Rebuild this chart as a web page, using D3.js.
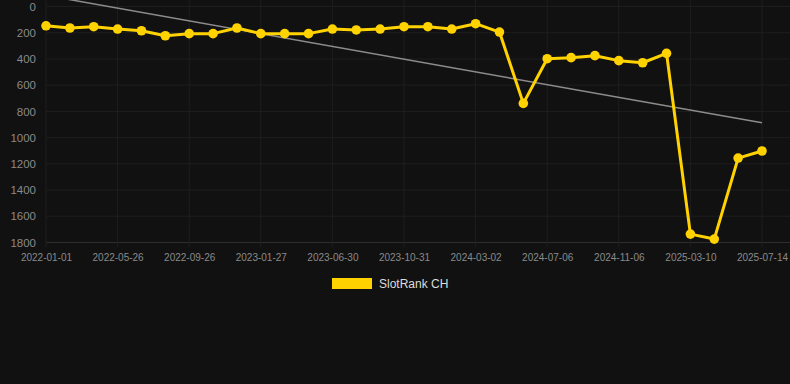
<!DOCTYPE html>
<html>
<head>
<meta charset="utf-8">
<script src="https://cdn.jsdelivr.net/npm/d3@7"></script>
<style>
  html, body { margin: 0; padding: 0; background: #111111; }
  svg { display: block; font-family: "Liberation Sans", Arial, sans-serif; }
</style>
</head>
<body>
<svg width="790" height="384"></svg>
<script>
// data (rank, lower is better)
var dates = [
  "2022-01-01", "2022-02-18", "2022-04-07", "2022-05-26", "2022-07-06", "2022-08-16",
  "2022-09-26", "2022-11-05", "2022-12-16", "2023-01-27", "2023-03-18", "2023-05-09",
  "2023-06-30", "2023-08-10", "2023-09-20", "2023-10-31", "2023-12-11", "2024-01-21",
  "2024-03-02", "2024-04-13", "2024-05-25", "2024-07-06", "2024-08-16", "2024-09-26",
  "2024-11-06", "2024-12-17", "2025-01-27", "2025-03-10", "2025-04-21", "2025-06-02",
  "2025-07-14"
];
var ranks = [
  147, 164, 154, 172, 185, 223, 207, 207, 164, 207, 207, 207,
  172, 179, 172, 154, 154, 172, 131, 195, 739, 398, 390, 375,
  413, 429, 357, 1736, 1774, 1156, 1102
];
var yTicks = [0, 200, 400, 600, 800, 1000, 1200, 1400, 1600, 1800];
var seriesName = "SlotRank CH";

var svg = d3.select("svg");
var plotL = 46, plotR = 762, gridR = 790, plotT = 6.5, plotB = 242.5;

var x = d3.scalePoint().domain(dates).range([plotL, plotR]);
var y = d3.scaleLinear().domain([0, 1800]).range([plotT, plotB]);

// grid
var grid = svg.append("g");
grid.selectAll(".hg")
  .data(yTicks)
  .enter().append("line")
  .attr("x1", plotL).attr("x2", gridR)
  .attr("y1", function (d) { return y(d); })
  .attr("y2", function (d) { return y(d); })
  .attr("stroke", function (d) { return d === 1800 ? "#2e2e2e" : "#1e1e1e"; })
  .attr("stroke-width", 1);

var xTickVals = dates.filter(function (d, i) { return i % 3 === 0; });
grid.selectAll(".vg")
  .data(xTickVals)
  .enter().append("line")
  .attr("x1", function (d) { return x(d); })
  .attr("x2", function (d) { return x(d); })
  .attr("y1", 0).attr("y2", plotB + 5)
  .attr("stroke", "#1e1e1e")
  .attr("stroke-width", 1);

// axes
var yAxis = svg.append("g")
  .attr("transform", "translate(" + (plotL - 10) + ",0)")
  .call(d3.axisLeft(y).tickValues(yTicks).tickFormat(d3.format("d")).tickSize(0).tickPadding(0));
yAxis.select(".domain").remove();
yAxis.selectAll("text")
  .attr("fill", "#8a8a8a")
  .style("font-size", "11.5px");

var xAxis = svg.append("g")
  .attr("transform", "translate(0," + plotB + ")")
  .call(d3.axisBottom(x).tickValues(xTickVals).tickSize(0).tickPadding(11));
xAxis.select(".domain").remove();
xAxis.selectAll("text")
  .attr("fill", "#8a8a8a")
  .style("font-size", "10px");

// trend line (least squares on the ranks)
var n = ranks.length;
var mx = d3.mean(ranks, function (d, i) { return i; });
var my = d3.mean(ranks);
var sxy = d3.sum(ranks, function (d, i) { return (i - mx) * (d - my); });
var sxx = d3.sum(ranks, function (d, i) { return (i - mx) * (i - mx); });
var slope = sxy / sxx, icpt = my - slope * mx;
var trend = [0, n - 1].map(function (i) { return { d: dates[i], v: icpt + slope * i }; });

svg.append("path")
  .datum(trend)
  .attr("fill", "none")
  .attr("stroke", "#8c8c8c")
  .attr("stroke-width", 1.5)
  .attr("d", d3.line()
    .x(function (d) { return x(d.d); })
    .y(function (d) { return y(d.v); }));

// series
var gold = "#FFD200";
var pts = dates.map(function (d, i) { return { d: d, v: ranks[i] }; });

svg.append("path")
  .datum(pts)
  .attr("fill", "none")
  .attr("stroke", gold)
  .attr("stroke-width", 3)
  .attr("stroke-linejoin", "round")
  .attr("d", d3.line()
    .x(function (d) { return x(d.d); })
    .y(function (d) { return y(d.v); }));

svg.selectAll(".dot")
  .data(pts)
  .enter().append("circle")
  .attr("cx", function (d) { return x(d.d); })
  .attr("cy", function (d) { return y(d.v); })
  .attr("r", 4.8)
  .attr("fill", gold);

// legend
var legend = svg.append("g").attr("transform", "translate(332,278)");
legend.append("rect")
  .attr("width", 40).attr("height", 11)
  .attr("fill", gold);
legend.append("text")
  .attr("x", 47).attr("y", 10)
  .attr("fill", "#dddddd")
  .style("font-size", "12px")
  .text(seriesName);
</script>
</body>
</html>
